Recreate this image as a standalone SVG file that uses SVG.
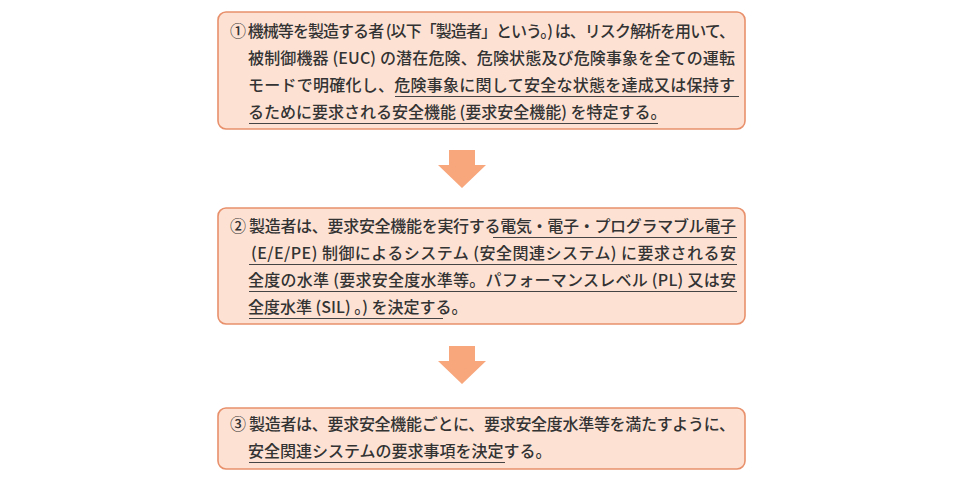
<svg xmlns="http://www.w3.org/2000/svg" width="960" height="480" viewBox="0 0 960 480">
<style>
.box{fill:#fde2d4;stroke:#e8906b;stroke-width:1.6}
.t{font-family:"Noto Sans CJK JP","Noto Sans",sans-serif;font-size:16px;fill:#333;font-weight:500}
.u{stroke:#444;stroke-width:1.1}
.arr{fill:#f8a67c}
</style>
<rect width="960" height="480" fill="#fff"/>
<g id="node1">
<rect class="box" x="218" y="12" width="527" height="117" rx="8"/>
<text class="t" x="230" y="37" textLength="505" lengthAdjust="spacing">① 機械等を製造する者 (以下「製造者」という。) は、リスク解析を用いて、</text>
<text class="t" x="248" y="64" textLength="487" lengthAdjust="spacing">被制御機器 (EUC) の潜在危険、危険状態及び危険事象を全ての運転</text>
<text class="t" x="248" y="91" textLength="487" lengthAdjust="spacing">モードで明確化し、危険事象に関して安全な状態を達成又は保持す</text>
<text class="t" x="248" y="118">るために要求される安全機能 (要求安全機能) を特定する。</text>
<line class="u" x1="395" y1="96.5" x2="739" y2="96.5"/>
<line class="u" x1="249" y1="123.5" x2="658" y2="123.5"/>
</g>
<g id="node2">
<rect class="box" x="218" y="208" width="527" height="116" rx="8"/>
<text class="t" x="230" y="232" textLength="506" lengthAdjust="spacing">② 製造者は、要求安全機能を実行する電気・電子・プログラマブル電子</text>
<text class="t" x="251" y="259" textLength="485" lengthAdjust="spacing">(E/E/PE) 制御によるシステム (安全関連システム) に要求される安</text>
<text class="t" x="248" y="286" textLength="488" lengthAdjust="spacing">全度の水準 (要求安全度水準等。パフォーマンスレベル (PL) 又は安</text>
<text class="t" x="248" y="313">全度水準 (SIL) 。) を決定する。</text>
<line class="u" x1="493" y1="237.5" x2="737" y2="237.5"/>
<line class="u" x1="249" y1="264.5" x2="737" y2="264.5"/>
<line class="u" x1="249" y1="291.5" x2="737" y2="291.5"/>
<line class="u" x1="249" y1="318.5" x2="443" y2="318.5"/>
</g>
<g id="node3">
<rect class="box" x="218" y="408" width="527" height="61" rx="8"/>
<text class="t" x="230" y="430" textLength="505" lengthAdjust="spacing">③ 製造者は、要求安全機能ごとに、要求安全度水準等を満たすように、</text>
<text class="t" x="248" y="457">安全関連システムの要求事項を決定する。</text>
<line class="u" x1="249" y1="462.5" x2="505" y2="462.5"/>
</g>
<g id="connectors">
<polygon class="arr" points="449,150 475,150 475,165 486,165 462,188 438,165 449,165"/>
<polygon class="arr" points="449,346 475,346 475,361 486,361 462,384 438,361 449,361"/>
</g>
</svg>
